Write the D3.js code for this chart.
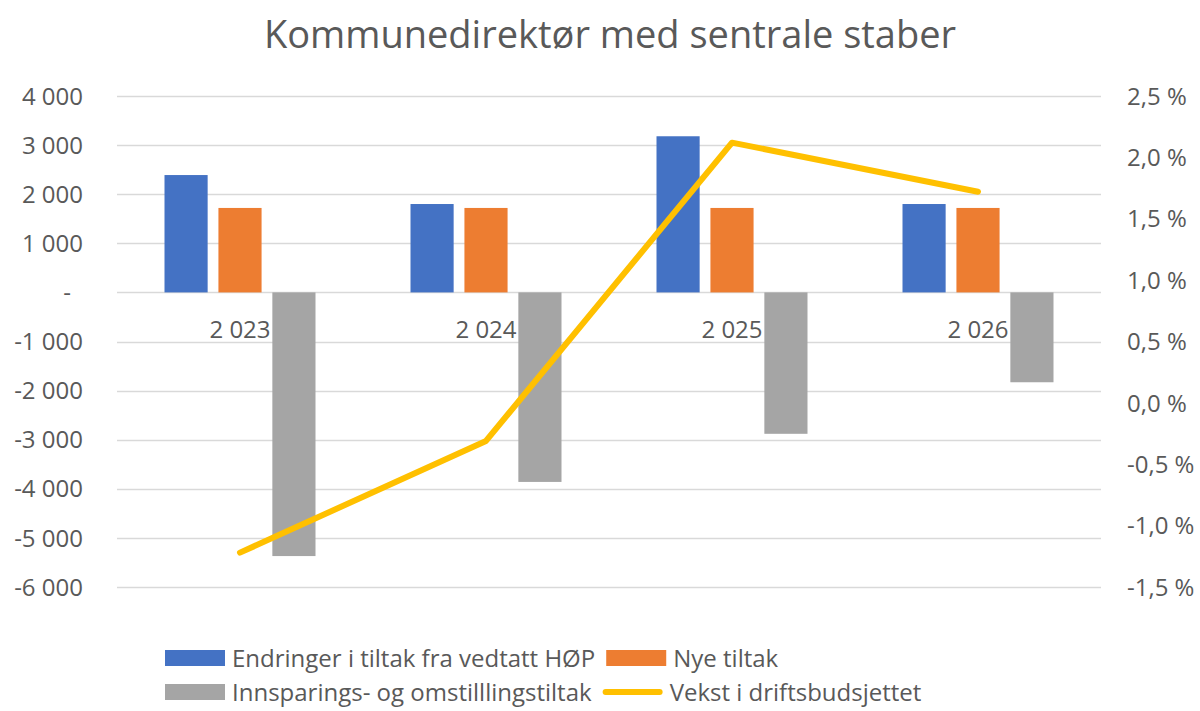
<!DOCTYPE html>
<html>
<head>
<meta charset="utf-8">
<script src="https://cdn.jsdelivr.net/npm/d3@7"></script>
<style>
  body { margin: 0; background: #fff; }
  svg { display: block; font-family: "Open Sans", sans-serif; }
</style>
</head>
<body>
<svg id="chart" width="1200" height="711"></svg>
<script>
// data
const categories = ["2 023", "2 024", "2 025", "2 026"];
const endringer = [2390, 1800, 3180, 1800];
const nyeTiltak = [1720, 1720, 1720, 1720];
const innsparing = [-5370, -3860, -2880, -1830];
const vekst = [-1.22, -0.31, 2.12, 1.72];

const leftTicks = [4000, 3000, 2000, 1000, 0, -1000, -2000, -3000, -4000, -5000, -6000];
const rightTicks = [2.5, 2.0, 1.5, 1.0, 0.5, 0.0, -0.5, -1.0, -1.5];

const seriesNames = ["Endringer i tiltak fra vedtatt HØP", "Nye tiltak", "Innsparings- og omstilllingstiltak", "Vekst i driftsbudsjettet"];
const colors = ["#4472C4", "#ED7D31", "#A5A5A5", "#FFC000"];
const textColor = "#595959";

const svg = d3.select("#chart");

const plot = { left: 117, right: 1101, top: 96, bottom: 587 };

const x = d3.scaleBand()
    .domain(categories)
    .range([plot.left, plot.right])
    .padding(0);

const xInner = d3.scaleBand()
    .domain([0, 1, 2])
    .range([47.5, x.bandwidth() - 47.5])
    .paddingInner(0.2)
    .paddingOuter(0);

const yLeft = d3.scaleLinear().domain([-6000, 4000]).range([plot.bottom, plot.top]);
const yRight = d3.scaleLinear().domain([-1.5, 2.5]).range([plot.bottom, plot.top]);

const no = d3.formatLocale({ decimal: ",", thousands: " ", grouping: [3], currency: ["", " kr"], minus: "-" });
const fmtLeft = (d) => d === 0 ? "-" : no.format(",.0f")(d);
const fmtRight = (d) => no.format(".1f")(d) + " %";

// title
svg.append("text")
    .attr("x", 610)
    .attr("y", 48)
    .attr("text-anchor", "middle")
    .attr("fill", textColor)
    .attr("font-size", 38)
    .text("Kommunedirektør med sentrale staber");

// gridlines
svg.append("g")
    .selectAll("line")
    .data(leftTicks)
    .enter()
    .append("line")
    .attr("x1", plot.left)
    .attr("x2", plot.right)
    .attr("y1", d => Math.round(yLeft(d)) + 0.5)
    .attr("y2", d => Math.round(yLeft(d)) + 0.5)
    .attr("stroke", "#d9d9d9")
    .attr("stroke-width", 1.6);

// left axis labels
svg.append("g")
    .selectAll("text")
    .data(leftTicks)
    .enter()
    .append("text")
    .attr("x", d => d === 0 ? 67 : 83)
    .attr("y", d => yLeft(d))
    .attr("dy", "0.36em")
    .attr("text-anchor", d => d === 0 ? "middle" : "end")
    .attr("fill", textColor)
    .attr("font-size", 24)
    .text(fmtLeft);

// right axis labels
svg.append("g")
    .selectAll("text")
    .data(rightTicks)
    .enter()
    .append("text")
    .attr("x", 1127)
    .attr("y", d => yRight(d))
    .attr("dy", "0.36em")
    .attr("text-anchor", "start")
    .attr("fill", textColor)
    .attr("font-size", 24)
    .text(fmtRight);

// bars
const barSeries = [endringer, nyeTiltak, innsparing];
const groups = svg.append("g")
    .selectAll("g")
    .data(categories)
    .enter()
    .append("g")
    .attr("transform", d => `translate(${x(d)},0)`);

groups.selectAll("rect")
    .data((d, i) => barSeries.map((s, k) => ({ k, v: s[i] })))
    .enter()
    .append("rect")
    .attr("x", d => xInner(d.k))
    .attr("width", xInner.bandwidth())
    .attr("y", d => yLeft(Math.max(0, d.v)))
    .attr("height", d => Math.abs(yLeft(d.v) - yLeft(0)))
    .attr("fill", d => colors[d.k]);

// category labels (next to the zero line)
svg.append("g")
    .selectAll("text")
    .data(categories)
    .enter()
    .append("text")
    .attr("x", d => x(d) + x.bandwidth() / 2)
    .attr("y", yLeft(0) + 46)
    .attr("text-anchor", "middle")
    .attr("fill", textColor)
    .attr("font-size", 24)
    .text(d => d);

// line on secondary axis
const line = d3.line()
    .x((d, i) => x(categories[i]) + x.bandwidth() / 2)
    .y(d => yRight(d));

svg.append("path")
    .datum(vekst)
    .attr("d", line)
    .attr("fill", "none")
    .attr("stroke", colors[3])
    .attr("stroke-width", 6)
    .attr("stroke-linecap", "round")
    .attr("stroke-linejoin", "round");

// legend, two rows
const legendRows = [[0, 1], [2, 3]];
const legendY = [658, 692];

legendRows.forEach((row, r) => {
    let xPos = 165;
    row.forEach(k => {
        const item = svg.append("g").attr("transform", `translate(${xPos},${legendY[r]})`);
        if (k === 3) {
            item.append("line")
                .attr("x1", 3).attr("x2", 57)
                .attr("y1", 0).attr("y2", 0)
                .attr("stroke", colors[k])
                .attr("stroke-width", 6)
                .attr("stroke-linecap", "round");
        } else {
            item.append("rect")
                .attr("x", 0).attr("y", -8)
                .attr("width", 60).attr("height", 16)
                .attr("fill", colors[k]);
        }
        const label = item.append("text")
            .attr("x", 67)
            .attr("y", 0)
            .attr("dy", "0.36em")
            .attr("fill", textColor)
            .attr("font-size", 24)
            .text(seriesNames[k]);
        xPos += 67 + label.node().getComputedTextLength() + 11;
    });
});
</script>
</body>
</html>
